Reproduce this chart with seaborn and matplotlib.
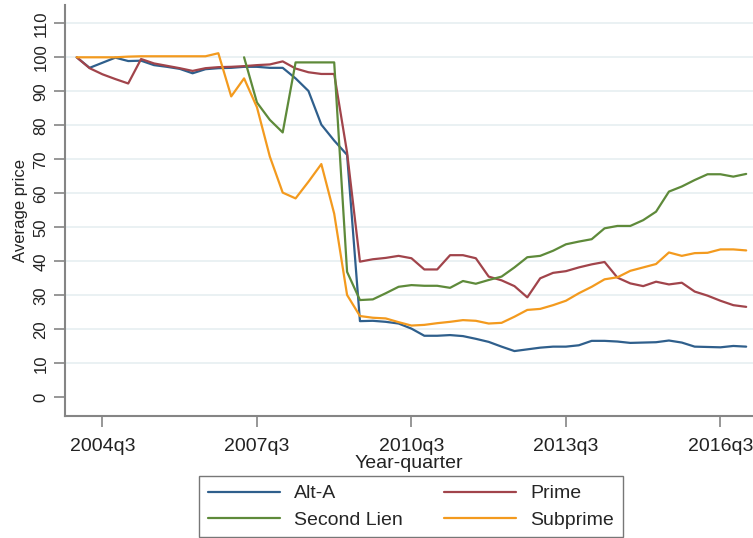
import pandas as pd
import numpy as np
import matplotlib
matplotlib.use('Agg')
import matplotlib.pyplot as plt
import seaborn as sns

# ======================
# Data (average price index by quarter, 2004q1 - 2017q1)
# ======================
quarters = pd.period_range('2004Q1', periods=53, freq='Q')
quarter_labels = [f"{p.year}q{p.quarter}" for p in quarters]

alt_a = [100.0, 96.9, 98.4, 99.9, 98.9, 99.0, 97.7, 97.2, 96.6, 95.3,
         96.5, 96.8, 96.9, 97.2, 97.2, 96.9, 96.9, 93.8, 90.1, 80.2,
         75.5, 71.3, 22.4, 22.5, 22.2, 21.7, 20.2, 18.1, 18.1, 18.3,
         18.0, 17.2, 16.3, 14.9, 13.6, 14.1, 14.6, 14.9, 14.9, 15.3,
         16.6, 16.6, 16.4, 16.0, 16.1, 16.2, 16.7, 16.1, 14.9, 14.8,
         14.7, 15.1, 14.9]
prime = [100.0, 96.8, 95.0, 93.6, 92.3, 99.5, 98.2, 97.5, 96.8, 96.0,
         96.8, 97.1, 97.2, 97.4, 97.7, 97.9, 98.8, 96.7, 95.6, 95.1,
         95.1, 72.0, 39.9, 40.6, 41.0, 41.6, 40.9, 37.6, 37.6, 41.8,
         41.8, 40.9, 35.5, 34.4, 32.7, 29.4, 35.0, 36.6, 37.1, 38.2,
         39.1, 39.8, 35.2, 33.5, 32.7, 34.0, 33.2, 33.7, 31.1, 29.9,
         28.4, 27.1, 26.6]
second_lien = [np.nan] * 13 + [
         100.0, 86.7, 81.6, 77.9, 98.5, 98.5, 98.5, 98.5, 36.9, 28.6,
         28.8, 30.6, 32.5, 33.0, 32.8, 32.8, 32.2, 34.2, 33.4, 34.5,
         35.5, 38.2, 41.2, 41.6, 43.1, 45.0, 45.8, 46.5, 49.7, 50.4,
         50.4, 52.1, 54.6, 60.5, 62.0, 63.9, 65.6, 65.6, 64.9, 65.7]
subprime = [100.0, 100.0, 100.0, 100.0, 100.2, 100.3, 100.3, 100.3, 100.3, 100.3,
            100.3, 101.2, 88.5, 93.8, 85.3, 70.8, 60.2, 58.5, 63.4, 68.6,
            54.0, 30.1, 23.9, 23.4, 23.2, 22.1, 21.1, 21.3, 21.8, 22.2,
            22.7, 22.5, 21.7, 21.9, 23.7, 25.7, 26.0, 27.1, 28.4, 30.6,
            32.5, 34.7, 35.3, 37.2, 38.2, 39.2, 42.6, 41.6, 42.4, 42.5,
            43.5, 43.5, 43.2]

series_names = ['Alt-A', 'Prime', 'Second Lien', 'Subprime']
colors = {'Alt-A': '#2f5f8c', 'Prime': '#a1444b',
          'Second Lien': '#5e8a3a', 'Subprime': '#f39a1e'}
tick_quarters = ['2004q3', '2007q3', '2010q3', '2013q3', '2016q3']

# long-form table for seaborn
df = pd.DataFrame({'t': np.arange(len(quarters)),
                   'Alt-A': alt_a, 'Prime': prime,
                   'Second Lien': second_lien, 'Subprime': subprime})
long_df = df.melt(id_vars='t', var_name='type', value_name='price').dropna()

# ======================
# Plot
# ======================
sns.set_theme(style='white')
plt.rcParams['font.family'] = ['Liberation Sans', 'DejaVu Sans']

fig = plt.figure(figsize=(7.53, 5.38), dpi=100)
ax = fig.add_axes([65 / 753, (538 - 416) / 538, 1 - 65 / 753, (416 - 5) / 538])

sns.lineplot(data=long_df, x='t', y='price', hue='type', hue_order=series_names,
             palette=colors, linewidth=1.6, ax=ax, legend=False)

# y: 0 at 397.3px, 3.4px per unit ; x: 2004q1 at 76.7px, 12.875px per quarter
ax.set_xlim(-0.91, 52.53)
ax.set_ylim((397.3 - 416) / 3.4, (397.3 - 5) / 3.4)

ax.set_yticks(np.arange(0, 111, 10))
ax.set_yticklabels([str(v) for v in range(0, 111, 10)], rotation=90, va='center', fontsize=12)
tick_pos = [quarter_labels.index(q) for q in tick_quarters]
ax.set_xticks(tick_pos)
ax.set_xticklabels(tick_quarters, fontsize=14)

ax.yaxis.grid(True, color='#e8f0f2', linewidth=1.3)
ax.get_ygridlines()[0].set_visible(False)
ax.set_axisbelow(True)

for s in ['top', 'right']:
    ax.spines[s].set_visible(False)
for s in ['left', 'bottom']:
    ax.spines[s].set_color('#858585')
    ax.spines[s].set_linewidth(1.5)
ax.tick_params(axis='both', direction='out', length=8, width=1.2, color='#858585',
               left=True, bottom=True, colors='#222222')
ax.tick_params(axis='x', pad=8)
ax.tick_params(axis='y', pad=4)

ax.set_xlabel('Year-quarter', fontsize=14, color='#222222', labelpad=0)
ax.set_ylabel('Average price', fontsize=12, color='#222222', labelpad=4)

# legend (Stata style box, two columns)
handles = {n: plt.Line2D([], [], color=colors[n], linewidth=1.6) for n in series_names}
order = ['Alt-A', 'Second Lien', 'Prime', 'Subprime']
leg = fig.legend([handles[n] for n in order], order, loc='upper left',
                 bbox_to_anchor=(199 / 753, 1 - 476 / 538), ncol=2, fontsize=14,
                 frameon=True, fancybox=False, edgecolor='#555555', handlelength=3.7,
                 handletextpad=0.75, columnspacing=2.1, labelspacing=0.45,
                 borderpad=0.45, borderaxespad=0)
leg.get_frame().set_linewidth(1.0)

fig.savefig('out.png', dpi=100)
